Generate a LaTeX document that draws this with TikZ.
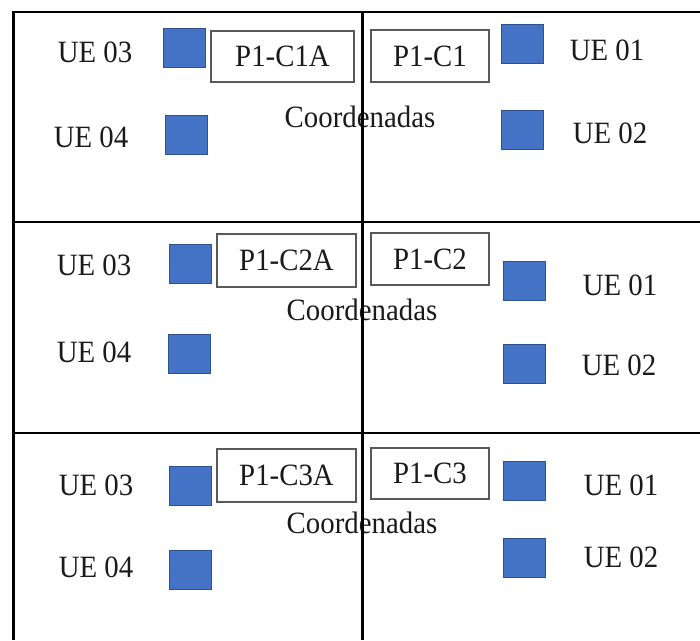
\documentclass[tikz,border=0pt]{standalone}
\usepackage{fontspec}
\setmainfont[FakeStretch=0.93]{Liberation Serif}
\definecolor{uefill}{HTML}{4472C4}
\definecolor{ueedge}{HTML}{2F528F}
\definecolor{boxedge}{HTML}{595959}
\definecolor{txt}{HTML}{1A1A1A}
\begin{document}
\begin{tikzpicture}[x=1pt,y=-1pt,
  ue/.style={rectangle,fill=uefill,draw=ueedge,line width=1pt,minimum width=42pt,minimum height=39pt,inner sep=0pt},
  lbl/.style={inner sep=0pt,text=txt,font=\fontsize{31}{36}\selectfont},
  pbox/.style={rectangle,draw=boxedge,fill=white,line width=1.2pt,inner sep=0pt,text=txt,font=\fontsize{31}{36}\selectfont},
  frame/.style={draw=black,line width=2pt},
  framethick/.style={draw=black,line width=3pt}]
\useasboundingbox (0,0) rectangle (700,640);
% ---- section 1
\node[lbl] (t3a) at (95,52) {UE 03};
\node[ue] (s3a) at (184,48) {};
\node[pbox,minimum width=143pt,minimum height=51pt] (pa) at (282.5,56.5) {P1-C1A};
\node[pbox,minimum width=118pt,minimum height=52pt] (pb) at (430,56) {P1-C1};
\node[ue] (s1a) at (522,43.5) {};
\node[lbl] (t1a) at (607,50) {UE 01};
\node[lbl] (t4a) at (91,137) {UE 04};
\node[ue] (s4a) at (186,134.5) {};
\node[lbl] (ca) at (360,117) {Coordenadas};
\node[ue] (s2a) at (522,130) {};
\node[lbl] (t2a) at (610,133) {UE 02};
% ---- section 2
\node[lbl] (t3b) at (94,265) {UE 03};
\node[ue] (s3b) at (190,264) {};
\node[pbox,minimum width=139pt,minimum height=53pt] (pc) at (286.5,260.5) {P1-C2A};
\node[pbox,minimum width=118pt,minimum height=52pt] (pd) at (430,259) {P1-C2};
\node[lbl] (cb) at (362,310) {Coordenadas};
\node[ue] (s1b) at (524,281) {};
\node[lbl] (t1b) at (620,285) {UE 01};
\node[lbl] (t4b) at (94,352) {UE 04};
\node[ue] (s4b) at (189,353.5) {};
\node[ue] (s2b) at (524,364) {};
\node[lbl] (t2b) at (619,365) {UE 02};
% ---- section 3
\node[lbl] (t3c) at (96,485) {UE 03};
\node[ue] (s3c) at (190.5,485.5) {};
\node[pbox,minimum width=139pt,minimum height=53pt] (pe) at (286.5,475.5) {P1-C3A};
\node[pbox,minimum width=118pt,minimum height=51pt] (pf) at (430,473.5) {P1-C3};
\node[lbl] (cc) at (362,523) {Coordenadas};
\node[ue] (s1c) at (524,481) {};
\node[lbl] (t1c) at (621,485) {UE 01};
\node[lbl] (t4c) at (96,567) {UE 04};
\node[ue] (s4c) at (190,570) {};
\node[ue] (s2c) at (524,557.5) {};
\node[lbl] (t2c) at (621,557) {UE 02};
% ---- frame lines
\draw[frame] (11.5,12) -- (700,12);
\draw[frame] (13,222) -- (700,222);
\draw[frame] (13,433) -- (700,433);
\draw[framethick] (13,11) -- (13,640);
\draw[framethick] (362,11) -- (362,640);
\end{tikzpicture}
\end{document}
